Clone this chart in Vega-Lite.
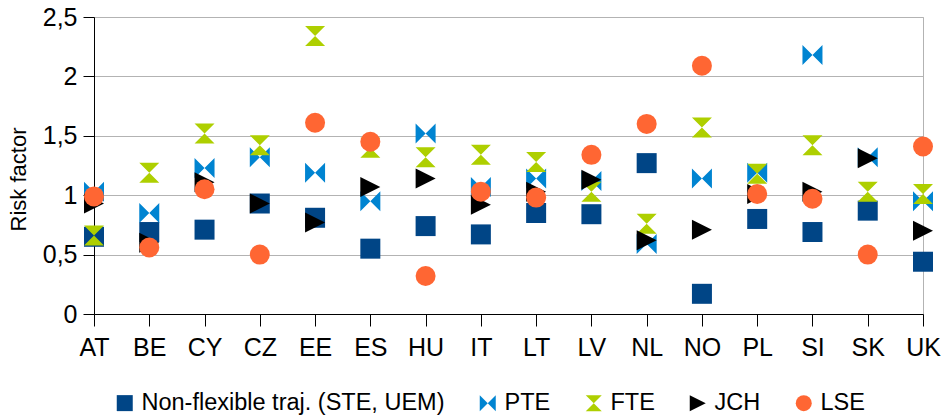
{
  "$schema": "https://vega.github.io/schema/vega-lite/v6.json",
  "width": 829,
  "height": 297,
  "autosize": {"type": "none"},
  "padding": {"left": 94, "top": 17, "right": 21, "bottom": 105},
  "background": "white",
  "config": {
    "font": "Liberation Sans",
    "view": {"stroke": "#b3b3b3", "strokeWidth": 1}
  },
  "data": {
    "values": [
      {"c": "AT", "s": "Non-flexible traj. (STE, UEM)", "v": 0.65},
      {"c": "BE", "s": "Non-flexible traj. (STE, UEM)", "v": 0.69},
      {"c": "CY", "s": "Non-flexible traj. (STE, UEM)", "v": 0.71},
      {"c": "CZ", "s": "Non-flexible traj. (STE, UEM)", "v": 0.93},
      {"c": "EE", "s": "Non-flexible traj. (STE, UEM)", "v": 0.81},
      {"c": "ES", "s": "Non-flexible traj. (STE, UEM)", "v": 0.55},
      {"c": "HU", "s": "Non-flexible traj. (STE, UEM)", "v": 0.74},
      {"c": "IT", "s": "Non-flexible traj. (STE, UEM)", "v": 0.67},
      {"c": "LT", "s": "Non-flexible traj. (STE, UEM)", "v": 0.85},
      {"c": "LV", "s": "Non-flexible traj. (STE, UEM)", "v": 0.84},
      {"c": "NL", "s": "Non-flexible traj. (STE, UEM)", "v": 1.27},
      {"c": "NO", "s": "Non-flexible traj. (STE, UEM)", "v": 0.17},
      {"c": "PL", "s": "Non-flexible traj. (STE, UEM)", "v": 0.80},
      {"c": "SI", "s": "Non-flexible traj. (STE, UEM)", "v": 0.69},
      {"c": "SK", "s": "Non-flexible traj. (STE, UEM)", "v": 0.87},
      {"c": "UK", "s": "Non-flexible traj. (STE, UEM)", "v": 0.44},
      {"c": "AT", "s": "PTE", "v": 1.03},
      {"c": "BE", "s": "PTE", "v": 0.85},
      {"c": "CY", "s": "PTE", "v": 1.23},
      {"c": "CZ", "s": "PTE", "v": 1.32},
      {"c": "EE", "s": "PTE", "v": 1.19},
      {"c": "ES", "s": "PTE", "v": 0.95},
      {"c": "HU", "s": "PTE", "v": 1.52},
      {"c": "IT", "s": "PTE", "v": 1.07},
      {"c": "LT", "s": "PTE", "v": 1.14},
      {"c": "LV", "s": "PTE", "v": 1.12},
      {"c": "NL", "s": "PTE", "v": 0.59},
      {"c": "NO", "s": "PTE", "v": 1.14},
      {"c": "PL", "s": "PTE", "v": 1.19},
      {"c": "SI", "s": "PTE", "v": 2.18},
      {"c": "SK", "s": "PTE", "v": 1.32},
      {"c": "UK", "s": "PTE", "v": 0.95},
      {"c": "AT", "s": "FTE", "v": 0.66},
      {"c": "BE", "s": "FTE", "v": 1.19},
      {"c": "CY", "s": "FTE", "v": 1.52},
      {"c": "CZ", "s": "FTE", "v": 1.42},
      {"c": "EE", "s": "FTE", "v": 2.34},
      {"c": "ES", "s": "FTE", "v": 1.40},
      {"c": "HU", "s": "FTE", "v": 1.32},
      {"c": "IT", "s": "FTE", "v": 1.34},
      {"c": "LT", "s": "FTE", "v": 1.28},
      {"c": "LV", "s": "FTE", "v": 1.03},
      {"c": "NL", "s": "FTE", "v": 0.76},
      {"c": "NO", "s": "FTE", "v": 1.57},
      {"c": "PL", "s": "FTE", "v": 1.18},
      {"c": "SI", "s": "FTE", "v": 1.42},
      {"c": "SK", "s": "FTE", "v": 1.03},
      {"c": "UK", "s": "FTE", "v": 1.01},
      {"c": "AT", "s": "JCH", "v": 0.93},
      {"c": "BE", "s": "JCH", "v": 0.60},
      {"c": "CY", "s": "JCH", "v": 1.11},
      {"c": "CZ", "s": "JCH", "v": 0.93},
      {"c": "EE", "s": "JCH", "v": 0.77},
      {"c": "ES", "s": "JCH", "v": 1.07},
      {"c": "HU", "s": "JCH", "v": 1.14},
      {"c": "IT", "s": "JCH", "v": 0.92},
      {"c": "LT", "s": "JCH", "v": 1.03},
      {"c": "LV", "s": "JCH", "v": 1.13},
      {"c": "NL", "s": "JCH", "v": 0.62},
      {"c": "NO", "s": "JCH", "v": 0.71},
      {"c": "PL", "s": "JCH", "v": 1.01},
      {"c": "SI", "s": "JCH", "v": 1.03},
      {"c": "SK", "s": "JCH", "v": 1.31},
      {"c": "UK", "s": "JCH", "v": 0.70},
      {"c": "AT", "s": "LSE", "v": 0.99},
      {"c": "BE", "s": "LSE", "v": 0.56},
      {"c": "CY", "s": "LSE", "v": 1.05},
      {"c": "CZ", "s": "LSE", "v": 0.50},
      {"c": "EE", "s": "LSE", "v": 1.61},
      {"c": "ES", "s": "LSE", "v": 1.45},
      {"c": "HU", "s": "LSE", "v": 0.32},
      {"c": "IT", "s": "LSE", "v": 1.03},
      {"c": "LT", "s": "LSE", "v": 0.98},
      {"c": "LV", "s": "LSE", "v": 1.34},
      {"c": "NL", "s": "LSE", "v": 1.60},
      {"c": "NO", "s": "LSE", "v": 2.09},
      {"c": "PL", "s": "LSE", "v": 1.01},
      {"c": "SI", "s": "LSE", "v": 0.97},
      {"c": "SK", "s": "LSE", "v": 0.50},
      {"c": "UK", "s": "LSE", "v": 1.41}
    ]
  },
  "mark": {"type": "point", "filled": true, "opacity": 1, "size": 400, "strokeWidth": 0},
  "encoding": {
    "x": {
      "field": "c",
      "type": "nominal",
      "sort": null,
      "scale": {"type": "point", "padding": 0},
      "axis": {
        "title": null,
        "labelAngle": 0,
        "labelFontSize": 25,
        "labelColor": "black",
        "labelPadding": 9,
        "domainColor": "black",
        "tickColor": "black",
        "tickSize": 12,
        "grid": false
      }
    },
    "y": {
      "field": "v",
      "type": "quantitative",
      "scale": {"domain": [0, 2.5], "nice": false},
      "axis": {
        "title": "Risk factor",
        "titleFontSize": 22,
        "titleFontWeight": "normal",
        "titleColor": "black",
        "titleX": -76,
        "titleY": 162,
        "titleBaseline": "middle",
        "values": [0, 0.5, 1, 1.5, 2, 2.5],
        "labelExpr": "replace(toString(datum.value), '.', ',')",
        "labelFontSize": 25,
        "labelColor": "black",
        "labelPadding": 6,
        "domainColor": "black",
        "tickColor": "black",
        "tickSize": 11,
        "gridColor": "#b3b3b3",
        "gridWidth": 1
      }
    },
    "color": {
      "field": "s",
      "type": "nominal",
      "scale": {
        "domain": ["Non-flexible traj. (STE, UEM)", "PTE", "FTE", "JCH", "LSE"],
        "range": ["#004586", "#0084d1", "#aecf00", "#000000", "#ff6633"]
      },
      "legend": {
        "title": null,
        "orient": "none",
        "direction": "horizontal",
        "columns": 5,
        "legendX": 19,
        "legendY": 374,
        "labelFontSize": 23.5,
        "labelColor": "black",
        "labelLimit": 500,
        "symbolSize": 256,
        "symbolStrokeWidth": 0,
        "labelOffset": 5,
        "columnPadding": 31,
        "padding": 0,
        "encode": {"symbols": {"update": {"size": {"value": 256}}}}
      }
    },
    "shape": {
      "field": "s",
      "type": "nominal",
      "scale": {
        "domain": ["Non-flexible traj. (STE, UEM)", "PTE", "FTE", "JCH", "LSE"],
        "range": ["square", "M-1,-1L0,0L-1,1Z M1,-1L0,0L1,1Z", "M-1,-1L1,-1L0,0Z M-1,1L1,1L0,0Z", "M-1,-1L1,0L-1,1Z", "circle"]
      },
      "legend": {
        "title": null,
        "orient": "none",
        "direction": "horizontal",
        "columns": 5,
        "legendX": 19,
        "legendY": 374,
        "labelFontSize": 23.5,
        "labelColor": "black",
        "labelLimit": 500,
        "symbolSize": 256,
        "symbolStrokeWidth": 0,
        "labelOffset": 5,
        "columnPadding": 31,
        "padding": 0,
        "encode": {"symbols": {"update": {"size": {"value": 256}}}}
      }
    }
  }
}
